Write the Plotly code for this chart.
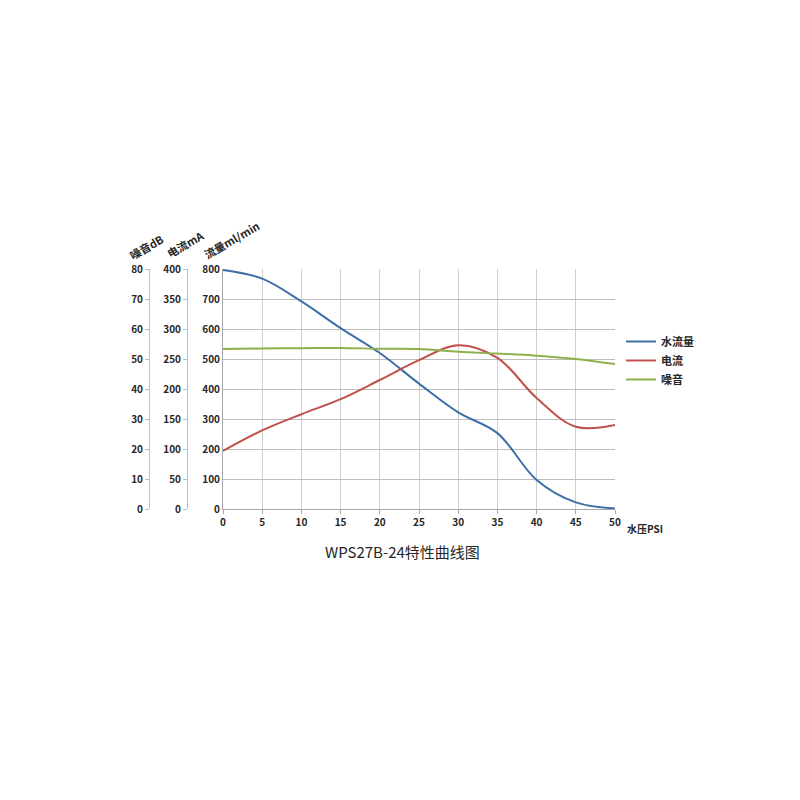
import plotly.graph_objects as go

# 水压 PSI
pressure = [0, 5, 10, 15, 20, 25, 30, 35, 40, 45, 50]
# 流量 ml/min
flow = [797, 768, 692, 603, 520, 418, 322, 253, 97, 22, 2]
# 电流 mA
current_ma = [97, 131, 158, 183, 215, 248, 273, 252, 185, 137, 140]
# 噪音 dB
noise_db = [53.3, 53.5, 53.6, 53.7, 53.4, 53.3, 52.4, 51.8, 51.1, 50.0, 48.3]

# page body has an 8px margin, so the figure is drawn 8px in from the window edge
OFF = 8
W = H = 792
def px(x):
    return (x - OFF) / W
def py(y):
    return (H - (y - OFF)) / H

FONT = "Noto Sans CJK SC"
tick_font = dict(family=FONT, size=10, color="#262626", weight="bold")

fig = go.Figure()
fig.add_trace(go.Scatter(x=pressure, y=flow, name="水流量", mode="lines",
                         line=dict(color="#3e70a8", width=2, shape="spline"), yaxis="y"))
fig.add_trace(go.Scatter(x=pressure, y=current_ma, name="电流", mode="lines",
                         line=dict(color="#c0504d", width=2, shape="spline"), yaxis="y2"))
fig.add_trace(go.Scatter(x=pressure, y=noise_db, name="噪音", mode="lines",
                         line=dict(color="#8fb04f", width=2, shape="spline"), yaxis="y3"))

fig.update_layout(
    width=W, height=H,
    margin=dict(l=0, r=0, t=0, b=0, pad=0, autoexpand=False),
    plot_bgcolor="white", paper_bgcolor="white",
    font=dict(family=FONT),
    xaxis=dict(domain=[px(223), px(615)], range=[0, 50], dtick=5,
               showgrid=True, gridcolor="#d0d0d0", gridwidth=1,
               showline=True, linecolor="#a6a6a6", ticks="outside", ticklen=4,
               tickcolor="#a6a6a6", tickfont=tick_font, zeroline=False),
    yaxis=dict(domain=[py(509), py(269)], range=[0, 800], dtick=100,
               showgrid=True, gridcolor="#bdbdbd", gridwidth=1,
               showline=True, linecolor="#a6a6a6", ticks="", zeroline=False,
               tickfont=tick_font),
    yaxis2=dict(overlaying="y", anchor="free", position=px(187), side="left",
                range=[0, 400], dtick=50, showgrid=False, zeroline=False,
                showline=True, linecolor="#bfbfbf", ticks="outside", ticklen=4,
                tickcolor="#bfbfbf", tickfont=tick_font),
    yaxis3=dict(overlaying="y", anchor="free", position=px(149), side="left",
                range=[0, 80], dtick=10, showgrid=False, zeroline=False,
                showline=True, linecolor="#bfbfbf", ticks="outside", ticklen=4,
                tickcolor="#bfbfbf", tickfont=tick_font),
    legend=dict(x=px(621), y=py(327), xanchor="left", yanchor="top",
                font=dict(family=FONT, size=11, color="#262626", weight="bold"),
                itemwidth=30, tracegroupgap=0, bgcolor="rgba(0,0,0,0)"),
    showlegend=True,
)

ann_font = dict(family=FONT, size=11, color="#262626", weight="bold")
def label(text, x, y, font=ann_font, angle=0):
    fig.add_annotation(text=text, x=px(x), y=py(y), xref="paper", yref="paper",
                       xanchor="center", yanchor="middle", showarrow=False,
                       textangle=angle, font=font)

label("噪音dB", 146, 247, angle=-30)
label("电流mA", 185, 244, angle=-30)
label("流量ml/min", 231, 240, angle=-30)
label("水压PSI", 645, 528, font=dict(family=FONT, size=10, color="#262626", weight="bold"))
label("WPS27B-24特性曲线图", 402, 551, font=dict(family=FONT, size=15, color="#262626"))

fig.write_html("out.html")
